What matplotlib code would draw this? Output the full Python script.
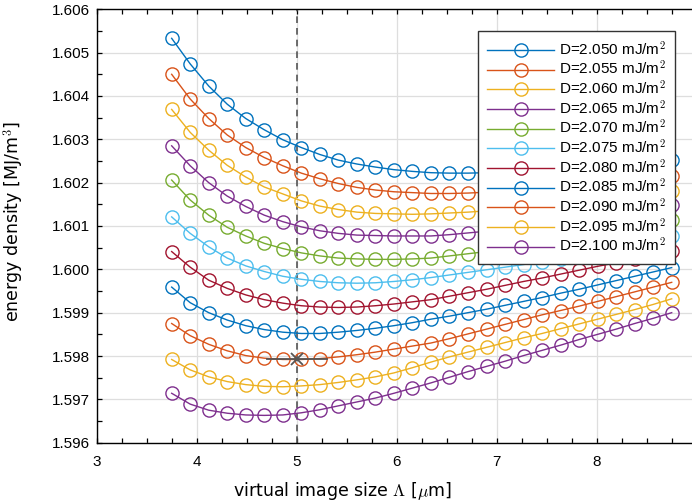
import matplotlib
matplotlib.use("Agg")
import matplotlib.pyplot as plt
from matplotlib.ticker import MultipleLocator, FormatStrFormatter

plt.rcParams['font.family'] = ['Liberation Sans', 'DejaVu Sans']
plt.rcParams['mathtext.fontset'] = 'cm'

# virtual image size [um]
lam = [3.7500, 3.9352, 4.1204, 4.3056, 4.4907, 4.6759, 4.8611, 5.0463, 5.2315, 5.4167,
       5.6019, 5.7870, 5.9722, 6.1574, 6.3426, 6.5278, 6.7130, 6.8981, 7.0833, 7.2685,
       7.4537, 7.6389, 7.8241, 8.0093, 8.1944, 8.3796, 8.5648, 8.7500]

d_values = ["2.050", "2.055", "2.060", "2.065", "2.070", "2.075",
            "2.080", "2.085", "2.090", "2.095", "2.100"]

e2050 = [1.60533, 1.60474, 1.60423, 1.60381, 1.60348, 1.60322, 1.60299, 1.60281, 1.60265, 1.60252,
         1.60243, 1.60236, 1.60230, 1.60226, 1.60223, 1.60222, 1.60222, 1.60223, 1.60224, 1.60226,
         1.60228, 1.60231, 1.60234, 1.60237, 1.60240, 1.60244, 1.60248, 1.60252]
e2055 = [1.60450, 1.60393, 1.60348, 1.60310, 1.60281, 1.60258, 1.60239, 1.60222, 1.60209, 1.60198,
         1.60189, 1.60183, 1.60179, 1.60177, 1.60175, 1.60175, 1.60176, 1.60178, 1.60180, 1.60183,
         1.60186, 1.60189, 1.60193, 1.60197, 1.60201, 1.60206, 1.60211, 1.60216]
e2060 = [1.60369, 1.60316, 1.60275, 1.60240, 1.60213, 1.60190, 1.60174, 1.60158, 1.60146, 1.60138,
         1.60132, 1.60129, 1.60128, 1.60127, 1.60128, 1.60130, 1.60132, 1.60135, 1.60138, 1.60142,
         1.60146, 1.60150, 1.60155, 1.60160, 1.60165, 1.60170, 1.60175, 1.60181]
e2065 = [1.60285, 1.60239, 1.60200, 1.60169, 1.60145, 1.60125, 1.60110, 1.60098, 1.60089, 1.60083,
         1.60079, 1.60078, 1.60077, 1.60077, 1.60077, 1.60080, 1.60084, 1.60088, 1.60092, 1.60097,
         1.60102, 1.60108, 1.60114, 1.60120, 1.60126, 1.60133, 1.60140, 1.60148]
e2070 = [1.60206, 1.60160, 1.60125, 1.60097, 1.60077, 1.60060, 1.60048, 1.60038, 1.60031, 1.60026,
         1.60024, 1.60023, 1.60023, 1.60024, 1.60026, 1.60031, 1.60036, 1.60041, 1.60047, 1.60053,
         1.60060, 1.60067, 1.60074, 1.60081, 1.60089, 1.60097, 1.60105, 1.60114]
e2075 = [1.60121, 1.60083, 1.60052, 1.60026, 1.60008, 1.59995, 1.59984, 1.59977, 1.59972, 1.59969,
         1.59968, 1.59969, 1.59972, 1.59976, 1.59981, 1.59987, 1.59993, 1.59999, 1.60005, 1.60011,
         1.60018, 1.60025, 1.60032, 1.60040, 1.60048, 1.60057, 1.60067, 1.60077]
e2080 = [1.60041, 1.60005, 1.59975, 1.59956, 1.59941, 1.59930, 1.59922, 1.59916, 1.59913, 1.59912,
         1.59913, 1.59916, 1.59920, 1.59925, 1.59930, 1.59938, 1.59946, 1.59954, 1.59963, 1.59972,
         1.59980, 1.59989, 1.59998, 1.60007, 1.60015, 1.60024, 1.60033, 1.60042]
e2085 = [1.59959, 1.59923, 1.59900, 1.59883, 1.59870, 1.59861, 1.59855, 1.59852, 1.59852, 1.59855,
         1.59859, 1.59864, 1.59870, 1.59877, 1.59885, 1.59892, 1.59900, 1.59908, 1.59917, 1.59926,
         1.59935, 1.59945, 1.59954, 1.59964, 1.59974, 1.59984, 1.59994, 1.60004]
e2090 = [1.59875, 1.59847, 1.59827, 1.59812, 1.59801, 1.59795, 1.59792, 1.59792, 1.59794, 1.59798,
         1.59803, 1.59809, 1.59816, 1.59823, 1.59830, 1.59840, 1.59851, 1.59862, 1.59873, 1.59884,
         1.59895, 1.59905, 1.59915, 1.59926, 1.59937, 1.59948, 1.59959, 1.59970]
e2095 = [1.59792, 1.59768, 1.59752, 1.59741, 1.59734, 1.59730, 1.59729, 1.59731, 1.59734, 1.59739,
         1.59745, 1.59752, 1.59761, 1.59773, 1.59786, 1.59798, 1.59809, 1.59820, 1.59831, 1.59842,
         1.59852, 1.59863, 1.59874, 1.59885, 1.59896, 1.59907, 1.59919, 1.59932]
e2100 = [1.59714, 1.59689, 1.59675, 1.59668, 1.59664, 1.59663, 1.59664, 1.59669, 1.59676, 1.59685,
         1.59694, 1.59703, 1.59714, 1.59726, 1.59738, 1.59751, 1.59764, 1.59776, 1.59788, 1.59801,
         1.59813, 1.59825, 1.59838, 1.59850, 1.59862, 1.59875, 1.59887, 1.59900]

series = [e2050, e2055, e2060, e2065, e2070, e2075, e2080, e2085, e2090, e2095, e2100]

x_ticks = [3, 4, 5, 6, 7, 8]

# chosen point
sel_x = 5.0
sel_y = 1.59792
sel_span = [4.70, 5.30]

colors = ["#0072bd", "#d95319", "#edb120", "#7e2f8e", "#77ac30", "#4dbeee", "#a2142f"]

fig = plt.figure(figsize=(6.92, 5.03), dpi=100)
ax = fig.add_axes([0.1397, 0.1199, 0.8671, 0.8616])

for k, (d, e) in enumerate(zip(d_values, series)):
    ax.plot(lam, e, color=colors[k % len(colors)], lw=1.0, marker='o', ms=9.5,
            mfc='none', mew=1.0, label=f"D={d} mJ/m$^2$", zorder=3)

ax.axvline(sel_x, color='#555555', ls='--', lw=1.2, dashes=(4, 3), zorder=2)
ax.plot(sel_span, [sel_y, sel_y], color='#555555', lw=1.3, zorder=4)
ax.plot([sel_x], [sel_y], marker='x', color='#555555', ms=9, mew=1.3, zorder=4)

ax.set_xlim(3, 9)
ax.set_ylim(1.596, 1.606)
ax.set_xticks(x_ticks)
ax.xaxis.set_minor_locator(MultipleLocator(0.25))
ax.yaxis.set_major_locator(MultipleLocator(0.001))
ax.yaxis.set_minor_locator(MultipleLocator(0.0005))
ax.yaxis.set_major_formatter(FormatStrFormatter('%.3f'))
ax.tick_params(which='both', direction='in', top=True, right=True, length=3.5,
               width=0.9, labelsize=11)
ax.tick_params(axis='x', pad=9)
ax.tick_params(axis='y', pad=5)
ax.grid(True, which='major', color='#dedede', lw=0.9)
ax.set_axisbelow(True)
for s in ax.spines.values():
    s.set_linewidth(1.0)

ax.set_xlabel(r"virtual image size $\Lambda$ [$\mu$m]", fontsize=12.5,
              family=['DejaVu Sans'])
ax.xaxis.set_label_coords(0.41, -0.085)
ax.set_ylabel(r"energy density [MJ/m$^3$]", fontsize=12.5, family=['DejaVu Sans'])
ax.yaxis.set_label_coords(-0.118, 0.51)

leg = ax.legend(loc='upper right', bbox_to_anchor=(0.9754, 0.9384),
                bbox_transform=fig.transFigure, borderaxespad=0, fontsize=11,
                handlelength=4.4, handletextpad=0.3, labelspacing=0.1,
                borderpad=0.6, fancybox=False, framealpha=1, edgecolor='#333333')
leg.get_frame().set_linewidth(1.0)

fig.savefig("out.png", dpi=100)
